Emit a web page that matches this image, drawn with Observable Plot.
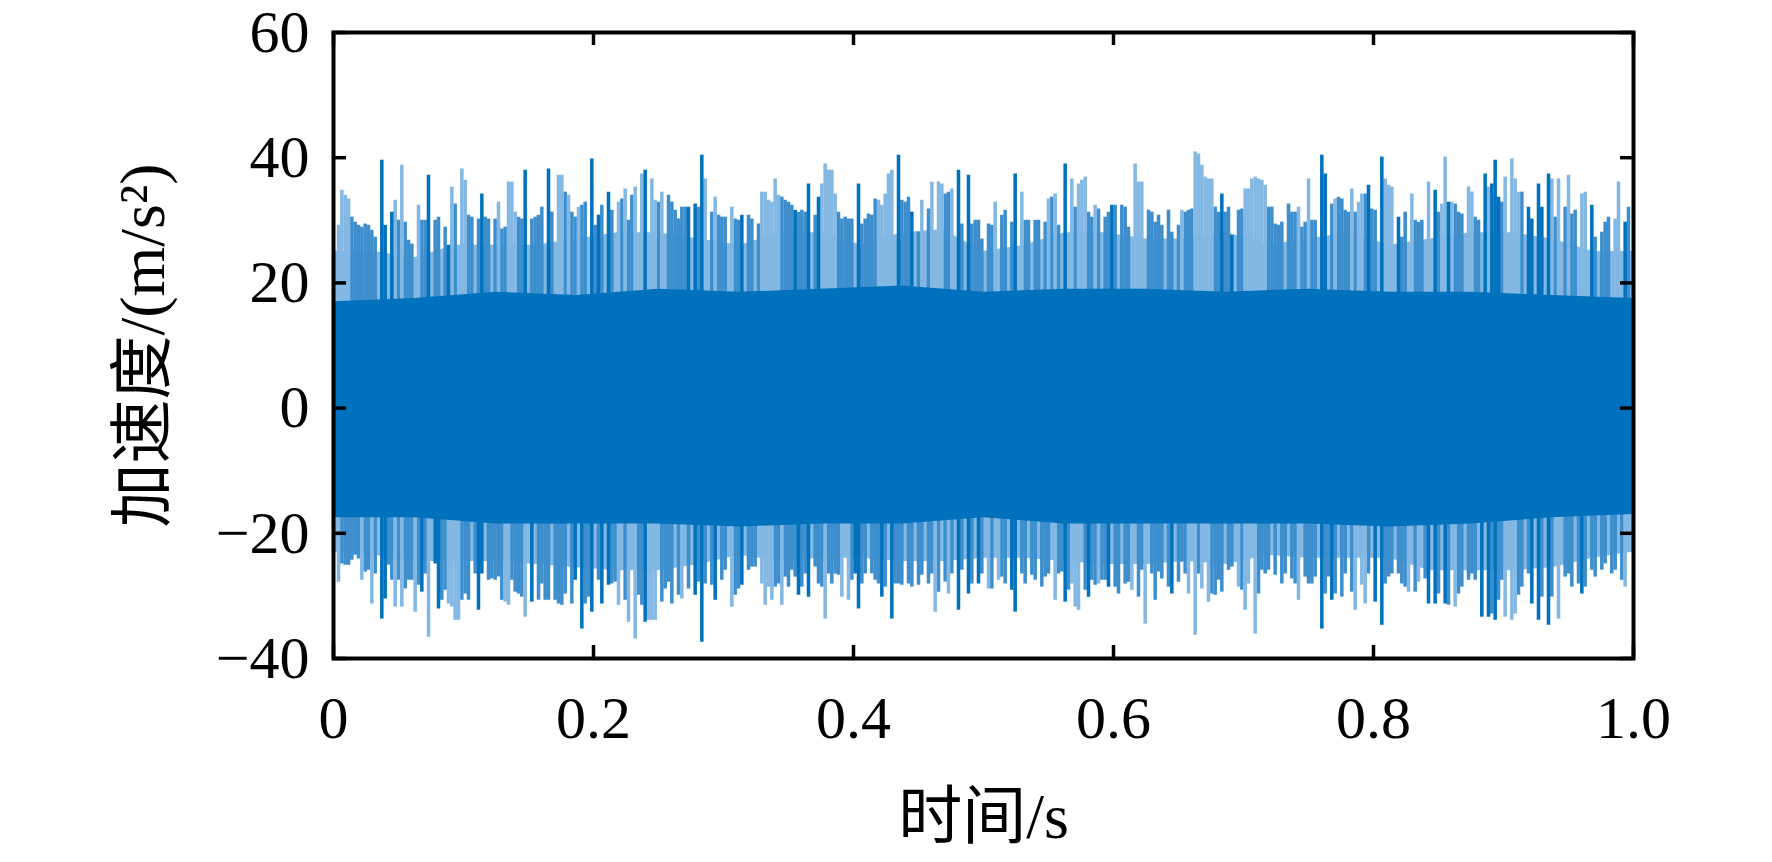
<!DOCTYPE html>
<html>
<head>
<meta charset="utf-8">
<script src="https://cdn.jsdelivr.net/npm/d3@7"></script>
<script src="https://cdn.jsdelivr.net/npm/@observablehq/plot@0.6"></script>
<style>
  body { margin: 0; background: #fff; }
</style>
</head>
<body>
<div id="myplot"></div>
<script>
// signal peaks, one value per 1/390 s (null = nothing readable there)
const upperPeaks = [
  null,29.2,34.8,34.0,33.4,30.5,29.7,29.2,28.9,29.4, 29.2,28.4,27.3,null,39.6,29.2,null,31.3,33.2,30.0,
  38.8,29.7,26.8,26.2,null,32.4,30.0,30.0,37.2,null, 30.0,30.5,null,28.9,26.0,35.3,32.6,null,38.2,36.4,
  30.8,30.5,null,30.2,34.2,30.5,30.2,null,30.2,32.9, 28.6,28.9,36.1,36.1,31.3,30.5,30.2,38.0,null,30.2,
  30.5,30.8,32.1,null,38.2,31.3,null,37.2,37.2,34.5, 34.0,31.3,30.5,32.1,32.4,32.9,null,39.8,29.2,30.8,
  32.4,null,34.5,31.6,null,32.9,33.4,35.0,30.0,34.0, 35.3,null,37.4,38.0,null,36.6,33.2,32.9,34.5,null,
  34.0,32.9,31.6,30.2,32.1,32.1,32.1,null,32.6,32.1, 40.4,36.6,null,31.3,33.7,30.8,30.5,30.5,null,32.1,
  30.2,30.0,30.8,null,30.8,30.2,null,29.4,34.5,34.5,
  33.2,32.9,36.6,34.0,33.7,33.2,32.9,32.4,31.6,31.3, 31.6,31.3,35.8,null,30.8,33.7,35.8,39.0,38.0,38.0,
  34.2,31.3,30.2,30.5,30.2,30.2,null,35.8,29.4,30.2, 31.0,30.8,33.4,33.2,32.4,34.2,37.4,38.0,null,40.4,
  33.2,32.9,33.7,31.3,null,28.1,33.2,null,31.8,36.1, null,36.1,35.8,34.2,34.5,35.0,null,38.0,29.4,null,
  37.2,29.4,30.0,30.0,27.0,null,29.4,29.2,32.9,null, 30.8,31.6,null,29.7,37.4,null,34.5,30.0,30.0,null,
  30.0,30.0,null,29.7,33.4,33.7,34.2,29.2,null,39.0, null,36.6,32.1,35.8,36.4,36.9,31.3,30.5,32.4,31.8,
  null,30.5,31.3,32.4,32.4,null,32.4,32.1,28.9,null, 39.0,36.1,36.1,null,31.6,31.3,29.7,30.8,29.2,null,
  31.6,28.1,null,29.2,31.6,31.3,31.6,31.8,40.9,40.6,
  38.8,36.9,36.6,36.6,32.1,31.3,34.2,31.3,32.1,27.6, null,31.6,31.8,35.0,35.0,36.6,36.9,36.6,36.4,35.6,
  32.1,32.1,29.4,29.2,29.7,null,32.6,31.3,31.3,32.1, 28.9,29.7,36.6,30.0,30.0,null,40.4,37.4,null,32.6,
  33.4,33.7,33.4,31.6,31.3,35.0,31.3,32.9,34.2,34.2, 35.6,31.8,31.6,null,40.1,36.6,35.6,35.3,null,30.5,
  27.3,31.3,null,34.2,30.0,29.7,30.0,null,36.1,null, 34.8,31.3,32.6,40.1,32.9,32.9,32.6,31.3,31.0,null,
  35.3,34.5,30.5,30.0,null,37.4,35.3,35.8,39.6,33.7, 32.9,36.9,null,39.8,36.6,34.5,34.5,null,32.1,30.2,
  null,35.8,32.1,null,37.4,36.6,30.5,36.6,null,32.1, 37.2,31.0,31.6,null,34.2,34.5,null,32.4,27.3,null,
  28.1,29.7,30.5,null,30.2,36.1,null,29.7,32.1,null
];
// l = pale line, m = half-covered line, d = full line, . = none
const upperShade =
  ".llllmmmmm" + "mmm.dd.dlm" + "lmmm.lmmd." + "mm.mdlm.ll" + "mm.mdmm.ml" + "mmlllmmd.m" + "mmm.dm.llm" +
  "lmmlmm.dmd" + "m.dm.lmlmm" + "l.ld.llml." + "mmmmmmd.dm" + "dl.mlmmm.l" + "mmd.mm.mll" +
  "llllmmmmdm" + "mmd.mdllll" + "lmmmmm.dmm" + "mmmlllll.d" + "mmmd.ml.ml" + ".llmml.dm." + "dmmmm.mml." +
  "mm.md.lmm." + "mm.mlmlm.d" + ".lmlllmmlm" + ".mmdm.mmm." + "lll.mmmmm." + "mm.mlmmmll" +
  "llllmmdmmd" + ".mmlllllll" + "mmmmm.mmml" + "mmlmm.dd.m" + "lmmmmlmllm" + "dmm.dlll.d" + "mm.lmmm.l." +
  "dmlldlmmm." + "llmm.dlddd" + "ml.lllm.dd" + ".dd.dlml.m" + "lmm.ll.dm." + "mmm.ll.dm.";

const lowerPeaks = [
  null,-27.8,-24.9,-25.1,-25.1,-24.3,-23.5,-24.1,-27.5,-26.2, -25.9,-31.3,-26.5,null,-33.7,-30.5,-25.1,-27.5,-31.8,-27.5,
  -31.8,-28.9,-27.5,-27.5,-32.6,-28.3,-29.4,-26.5,-36.6,null, -24.9,-32.1,-30.7,-29.1,-31.3,-31.8,-33.9,-33.9,-30.7,-29.7,
  -30.7,null,-26.5,-32.3,-26.5,null,-27.5,-27.3,-27.5,-27.0, -30.7,-31.0,-31.5,-27.5,-29.4,-29.7,-30.2,-33.4,null,-31.0,
  null,-30.7,-28.1,-30.7,-30.7,null,-30.7,-31.3,-31.5,-29.7, null,-31.3,-27.5,null,-35.3,-31.3,-30.2,-32.6,null,-27.5,
  -31.3,null,-28.3,-28.1,-27.8,-31.5,null,-30.7,-34.2,null, -36.9,-29.9,-31.5,-34.2,-33.9,-33.9,-33.9,null,-31.0,-28.9,
  -27.8,-31.3,null,-29.9,-30.5,null,-28.9,null,-29.9,-27.8, -37.4,-28.1,null,-28.3,-30.7,null,-27.5,-25.9,null,-31.8,
  -29.9,-28.9,-28.3,null,-25.9,-25.4,-25.4,null,-28.1,-31.5,
  -28.6,-30.7,-28.6,-28.1,-31.5,-27.0,-28.6,-25.9,-27.0,-29.9, -28.6,-26.5,-30.2,null,-25.4,-28.1,-28.6,-33.7,-26.5,-28.1,
  -26.5,-26.7,-30.2,null,-30.7,-27.5,-26.5,-32.1,-28.1,-26.5, null,-26.5,-27.5,-28.1,-30.2,-28.6,null,-33.7,-28.1,-28.1,
  -28.3,null,-28.1,-28.6,null,-28.3,-26.7,null,-28.1,-26.5, -32.6,-29.4,null,-27.8,-29.7,-26.5,null,-32.3,-25.9,null,
  -29.7,-28.1,null,-28.1,-26.5,null,-28.9,-28.9,null,-27.5, -27.0,-28.1,null,-29.1,-32.6,null,-26.5,-28.1,null,-26.7,
  -27.5,null,-28.6,-27.0,-26.5,null,-30.7,-26.5,-26.2,-31.0, -29.1,-28.1,-31.8,-32.3,null,-29.1,-30.2,-27.5,-28.3,-28.1,
  -27.5,-27.5,-28.6,null,-28.6,-29.7,null,-28.1,-27.8,-29.1, null,-30.2,-25.9,-34.5,null,-26.5,-30.7,-26.2,-27.3,null,
  -28.6,-29.7,null,-27.8,-24.6,-26.5,-29.7,null,-36.3,-26.5,
  -28.9,null,-31.0,-29.7,-29.9,-27.5,-29.4,null,-25.9,-25.4, null,-28.6,-29.1,-32.3,-28.1,null,-36.1,-29.7,-25.9,-26.5,
  -25.9,null,-26.7,null,-28.1,-26.5,null,-27.3,-28.1,-30.7, null,-27.0,-28.1,-28.1,-27.0,null,-35.3,-29.7,-27.0,-30.7,
  -29.7,null,-30.2,-26.5,null,-29.4,-32.3,null,-28.3,-31.3, -26.5,null,-31.0,null,-34.7,-28.1,-27.0,-26.5,null,-26.5,
  -28.1,-28.6,-29.4,null,-29.4,-27.8,null,-27.3,-31.3,null, -31.3,-29.7,null,-31.3,-31.5,null,-31.8,-29.7,-28.6,null,
  -27.5,-26.5,-27.5,null,-33.4,null,-33.4,-32.9,-33.9,-30.7, -27.5,-33.4,null,-33.9,-32.9,-29.9,-28.6,null,-26.5,-31.3,
  null,-33.9,-30.2,null,-34.7,-30.2,null,-33.7,null,-27.0, -26.5,-28.6,null,-28.1,-29.7,-28.6,null,-25.9,-27.0,null,
  -25.9,-24.9,null,-26.5,-25.9,null,-27.5,-28.6,null,null
];
const lowerShade =
  ".lmmmmmmlm" + "mlm.ddmmlm" + "lmmmlmdml." + "ddmmllllmm" + "m.mdd.mmmm" + "mllmmmml.d" + ".mmmm.mmmm" +
  ".md.dmmd.m" + "d.dmml.ml." + "lmmdlll.mm" + "mm.ml.m.dm" + "dm.md.mm.l" + "mmd.mmm.ll" +
  "llmmlmmmmd" + "mmd.mmmlmm" + "mml.lmddmm" + ".mmmdm.dmm" + "m.mm.mm.mm" + "lm.mlm.dm." + "dm.dm.lm.l" +
  "mm.dd.mm.m" + "m.mmm.lmmd" + "mlll.mdmml" + "mmd.mm.mml" + ".mml.mmmm." + "md.mmml.lm" +
  "l.lmmmm.mm" + ".lmll.lmmm" + "m.m.mm.mml" + ".mmmm.dmmd" + "m.mm.ml.ll" + "m.d.dmmm.m" + "mml.ml.md." +
  "dm.dm.lmm." + "mmm.d.dmdm" + "ml.llmm.md" + ".dm.dm.l.m" + "mm.mdm.mm." + "mm.mm.ml..";

// pale fringe behind the lines, 33 points over 0..1 s
const upperFringe = [25,25,24,26,26,26,27,28,28,27,26,28,28,26,28,28.5,25,26,28,28,27,27,28,26,27,28,26,27,28,28,27,25,25];
const lowerFringe = [-23,-23.5,-24.5,-24.5,-24.5,-25,-25.5,-26,-26,-25,-23.5,-24.5,-24,-24,-24.5,-24.5,-24,-24,-24.5,-25,-25,-24.5,-25,-23.5,-24,-24,-24,-26,-26,-26,-25.5,-24,-23];

// solid dark core, 17 points over 0..1 s
const coreUpper = [17,17.5,18.5,18,19,18.5,19,19.5,18.5,19,19,18.5,19,18.5,18.5,18,17.5];
const coreLower = [-17.5,-17.5,-18.5,-18.5,-18.5,-19,-18.5,-18.5,-17.5,-18.5,-18.5,-18.5,-18.5,-19,-18.5,-17.5,-17];

const xTicks = [0, 0.2, 0.4, 0.6, 0.8, 1.0];
const yTicks = [-40, -20, 0, 20, 40, 60];

const yLabel = "加速度/(m/s²)";
const xLabel = "时间/s";

const shades = {d: "#0071bc", m: "#3d8ecd", l: "#82b8e3"};
const serif = "'Liberation Serif', 'Times New Roman', Tinos, 'Noto Sans CJK SC', serif";

const n = upperPeaks.length;
const lines = [];
upperPeaks.forEach((v, i) => { if (v != null) lines.push({t: (i + 0.5) / n, v, s: upperShade[i]}); });
lowerPeaks.forEach((v, i) => { if (v != null) lines.push({t: (i + 0.5) / n, v, s: lowerShade[i]}); });

const fringe = upperFringe.map((v, i) => ({t: i / (upperFringe.length - 1), hi: v, lo: lowerFringe[i]}));
const core = coreUpper.map((v, i) => ({t: i / (coreUpper.length - 1), hi: v, lo: coreLower[i]}));

const W = 1772, H = 862;
const mL = 333, mR = 139, mT = 32, mB = 204;
const fw = W - mL - mR, fh = H - mT - mB;
const tickLen = 13;
const lineW = fw / n + 0.2;

const plot = Plot.plot({
  width: W,
  height: H,
  marginLeft: mL,
  marginRight: mR,
  marginTop: mT,
  marginBottom: mB,
  style: {fontFamily: serif, background: "#fff", color: "#000"},
  x: {domain: [0, 1], axis: null},
  y: {domain: [-40, 60], axis: null},
  marks: [
    Plot.areaY(fringe, {x: "t", y1: "lo", y2: "hi", fill: shades.l}),
    Plot.ruleX(lines.filter(d => d.s === "m"), {x: "t", y1: 0, y2: "v", stroke: shades.m, strokeWidth: lineW}),
    Plot.ruleX(lines.filter(d => d.s === "l"), {x: "t", y1: 0, y2: "v", stroke: shades.l, strokeWidth: lineW}),
    Plot.ruleX(lines.filter(d => d.s === "d"), {x: "t", y1: 0, y2: "v", stroke: shades.d, strokeWidth: lineW}),
    Plot.areaY(core, {x: "t", y1: "lo", y2: "hi", fill: shades.d}),
    // inward ticks on all four sides
    Plot.tickX(xTicks, {x: d => d, insetTop: fh - tickLen, stroke: "#000", strokeWidth: 3.5}),
    Plot.tickX(xTicks, {x: d => d, insetBottom: fh - tickLen, stroke: "#000", strokeWidth: 3.5}),
    Plot.tickY(yTicks, {y: d => d, insetRight: fw - tickLen, stroke: "#000", strokeWidth: 3.5}),
    Plot.tickY(yTicks, {y: d => d, insetLeft: fw - tickLen, stroke: "#000", strokeWidth: 3.5}),
    Plot.frame({stroke: "#000", strokeWidth: 4}),
    Plot.axisX({ticks: xTicks, tickSize: 0, tickPadding: 37, fontSize: 60, label: null,
      tickFormat: d => d === 0 ? "0" : d.toFixed(1)}),
    Plot.axisY({ticks: yTicks, tickSize: 0, tickPadding: 24, fontSize: 60, label: null,
      tickFormat: d => d < 0 ? "\u2212" + Math.abs(d) : String(d)}),
    Plot.text([yLabel], {frameAnchor: "left", dx: -190, rotate: -90, fontSize: 64, fontFamily: serif,
      textAnchor: "middle", lineAnchor: "middle", fill: "#000"}),
    Plot.text([xLabel], {frameAnchor: "bottom", dy: 159, fontSize: 64, fontFamily: serif,
      textAnchor: "middle", lineAnchor: "middle", fill: "#000"})
  ]
});

document.querySelector("#myplot").append(plot);
</script>
</body>
</html>
